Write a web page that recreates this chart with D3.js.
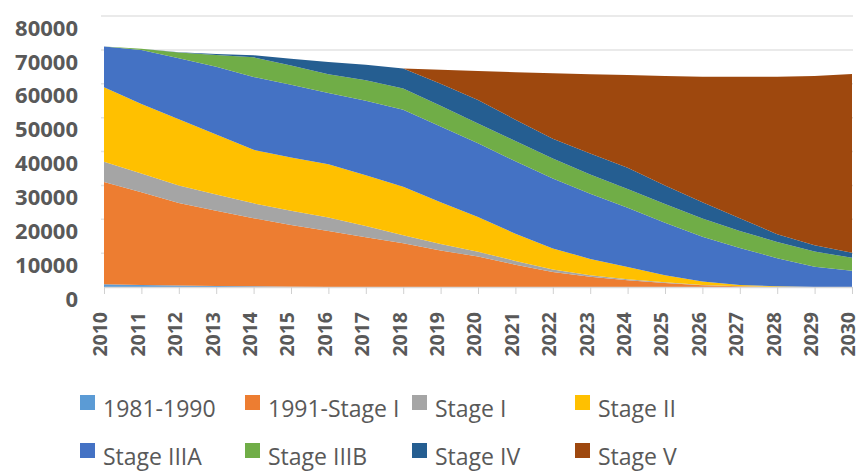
<!DOCTYPE html>
<html>
<head>
<meta charset="utf-8">
<script src="https://cdn.jsdelivr.net/npm/d3@7"></script>
<style>
  body { margin: 0; background: #fff; }
  svg { display: block; }
</style>
</head>
<body>
<div id="chart"></div>
<script>
// categories
const years = ['2010','2011','2012','2013','2014','2015','2016','2017','2018','2019','2020',
  '2021','2022','2023','2024','2025','2026','2027','2028','2029','2030']

// series values (read off the picture, not stacked)
const s1981to1990 = [800,600,450,300,200,100,0,0,0,0,0,0,0,0,0,0,0,0,0,0,0]
const s1991toStageI = [30200,27400,24350,22200,20100,18200,16500,14700,12900,10800,9000,6600,4400,3000,2000,1200,500,200,0,0,0]
const stageI = [6000,5500,5200,4800,4400,4200,4000,3300,2400,1900,1400,1100,800,500,300,200,100,50,0,0,0]
const stageII = [22000,20500,19500,17700,15800,15700,15700,15000,14300,12300,10300,8000,6200,4800,3600,2100,1000,350,200,0,0]
const stageIIIA = [12000,16000,18000,20000,21500,21500,21100,22000,22700,22400,21700,21400,20600,19200,17500,15500,13200,10900,8300,6000,4800]
const stageIIIB = [0,300,1700,3500,5800,5700,5500,6000,6300,6100,5900,6000,5900,5700,5500,5500,5400,5000,4800,4500,3800]
const stageIV = [0,0,100,300,600,2000,3600,4600,5900,6500,6900,6300,5900,6200,6300,5500,4800,3800,2300,1800,1500]
const stageV = [0,0,0,0,0,0,0,0,0,4100,8600,14000,19300,23400,27400,32300,37100,41800,46500,50000,52800]

const seriesNames = ['1981-1990','1991-Stage I','Stage I','Stage II','Stage IIIA','Stage IIIB','Stage IV','Stage V']
const seriesValues = [s1981to1990, s1991toStageI, stageI, stageII, stageIIIA, stageIIIB, stageIV, stageV]
const colors = ['#5b9bd5','#ed7d31','#a5a5a5','#ffc000','#4472c4','#70ad47','#255e91','#9e480e']

// y tick labels
const yTicks = [0,10000,20000,30000,40000,50000,60000,70000,80000]

const width = 865
const height = 471

const rows = years.map((yr, i) => {
  const r = { year: yr }
  seriesNames.forEach((n, j) => { r[n] = seriesValues[j][i] })
  return r
})

const svg = d3.select('#chart').append('svg')
    .attr('width', width)
    .attr('height', height)

const x = d3.scalePoint().domain(years).range([104, 852])
const y = d3.scaleLinear().domain([0, 80000]).range([287, 16])

// gridlines
svg.append('g')
  .selectAll('line')
  .data(yTicks.slice(1))
  .enter().append('line')
    .attr('x1', 101)
    .attr('x2', 853)
    .attr('y1', d => y(d))
    .attr('y2', d => y(d))
    .attr('stroke', '#e3e3e3')
    .attr('stroke-width', 1.5)

const stack = d3.stack().keys(seriesNames)
const layers = stack(rows)

const area = d3.area()
    .x(d => x(d.data.year))
    .y0(d => y(d[0]))
    .y1(d => y(d[1]))

svg.append('g')
  .selectAll('path')
  .data(layers)
  .enter().append('path')
    .attr('d', area)
    .attr('fill', (d, i) => colors[i])

// x axis
const xAxis = svg.append('g')
    .attr('transform', `translate(0,${y(0)})`)
    .call(d3.axisBottom(x).tickSize(7).tickSizeOuter(0).tickPadding(4))

xAxis.select('.domain').attr('stroke', '#d9d9d9').attr('stroke-width', 1.5)
xAxis.selectAll('.tick line').attr('stroke', '#d0d0d0')
xAxis.selectAll('.tick text')
    .attr('transform', 'rotate(-90)')
    .attr('text-anchor', 'end')
    .attr('x', -25)
    .attr('y', -4)
    .attr('dy', '0.35em')
    .style('font-family', '"Open Sans", sans-serif')
    .style('font-weight', '700')
    .style('font-size', '19.5px')
    .style('fill', '#595959')

// y labels (drawn a little below their gridlines, as in the picture)
svg.append('g')
  .selectAll('text')
  .data(yTicks)
  .enter().append('text')
    .attr('x', 78)
    .attr('y', d => y(d) + 12)
    .attr('dy', '0.35em')
    .attr('text-anchor', 'end')
    .style('font-family', '"Open Sans", sans-serif')
    .style('font-weight', '700')
    .style('font-size', '22px')
    .style('fill', '#595959')
    .text(d => d)

// legend
const legendCols = [80, 245, 412, 575]
const legendRows = [395, 443]
const legend = svg.append('g')
  .selectAll('g')
  .data(seriesNames)
  .enter().append('g')
    .attr('transform', (d, i) => `translate(${legendCols[i % 4]},${legendRows[Math.floor(i / 4)]})`)

legend.append('rect')
    .attr('width', 15)
    .attr('height', 15)
    .attr('fill', (d, i) => colors[i])

legend.append('text')
    .attr('x', 23)
    .attr('y', 22)
    .style('font-family', '"Open Sans", sans-serif')
    .style('font-size', '23px')
    .style('fill', '#595959')
    .text(d => d)
</script>
</body>
</html>
